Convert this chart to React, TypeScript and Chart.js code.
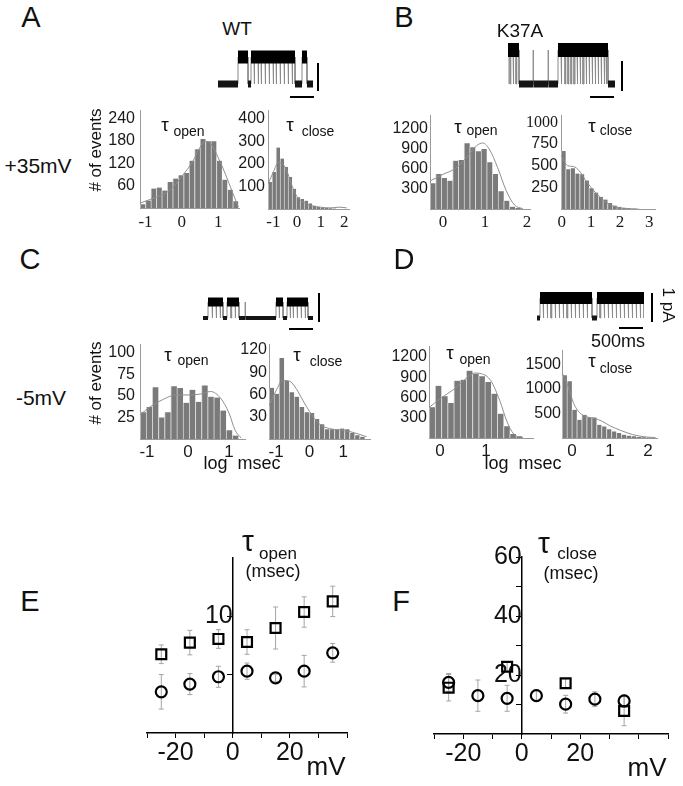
import React, { useEffect, useRef } from 'react';
import { Chart, registerables } from 'chart.js';
Chart.register(...registerables);

const SANS = "'Liberation Sans', Arial, sans-serif";
const SERIF = "'Liberation Serif', 'Times New Roman', serif";
Chart.defaults.font.family = SANS;

// ---------- Histogram data (log msec bins, # of events) ----------
const aOpenStart = -1.15; const aOpenWidth = 0.15;
const aOpenBins = [10, 20, 52, 55, 47, 70, 79, 88, 94, 127, 158, 185, 179, 179, 127, 76, 49, 18];
const aOpenFitX = [-1.15, -0.9, -0.6, -0.3, 0, 0.3, 0.5, 0.65, 0.8, 1.0, 1.2, 1.4, 1.55];
const aOpenFitY = [13, 22, 33, 50, 85, 125, 163, 179, 172, 135, 90, 40, 3];
const aOpenXTicks = [-1, 0, 1];
const aOpenYTicks = [60, 120, 180, 240];

const aCloseStart = -1.23; const aCloseWidth = 0.17;
const aCloseBins = [120, 165, 273, 224, 187, 142, 90, 52, 45, 37, 25, 15, 10, 7, 5, 3, 2];
const aCloseFitX = [-1.23, -1.0, -0.8, -0.6, -0.4, -0.2, 0, 0.3, 0.6, 1.0, 1.4, 1.8, 2.1];
const aCloseFitY = [110, 165, 205, 200, 160, 100, 55, 28, 15, 8, 5, 8, 5];
const aCloseXTicks = [-1, 0, 1, 2];
const aCloseYTicks = [100, 200, 300, 400];

const bOpenStart = -0.31; const bOpenWidth = 0.135;
const bOpenBins = [385, 525, 465, 425, 725, 735, 985, 925, 865, 900, 700, 525, 265, 125, 35, 15];
const bOpenFitX = [-0.31, 0, 0.3, 0.6, 0.8, 0.95, 1.1, 1.3, 1.5, 1.7, 1.9];
const bOpenFitY = [420, 520, 610, 800, 950, 990, 900, 620, 280, 60, 5];
const bOpenXTicks = [0, 1, 2];
const bOpenYTicks = [300, 600, 900, 1200];

const bCloseStart = -0.03; const bCloseWidth = 0.16;
const bCloseBins = [670, 460, 470, 410, 400, 330, 240, 190, 140, 110, 70, 40, 25, 15, 8, 4, 2];
const bCloseFitX = [-0.03, 0.2, 0.4, 0.6, 0.8, 1.0, 1.3, 1.6, 1.9, 2.2, 2.6];
const bCloseFitY = [620, 500, 490, 440, 340, 250, 140, 60, 20, 5, 1];
const bCloseXTicks = [0, 1, 2, 3];
const bCloseYTicks = [250, 500, 750, 1000];

const cOpenStart = -1.17; const cOpenWidth = 0.15;
const cOpenBins = [31, 37, 60, 25, 31, 61, 59, 42, 57, 43, 62, 49, 48, 33, 10, 4];
const cOpenFitX = [-1.17, -0.9, -0.6, -0.3, 0, 0.3, 0.55, 0.8, 1.0, 1.15, 1.3];
const cOpenFitY = [28, 38, 46, 51, 51, 52, 55, 47, 30, 10, 1];
const cOpenXTicks = [-1, 0, 1];
const cOpenYTicks = [25, 50, 75, 100];

const cCloseStart = -1.21; const cCloseWidth = 0.15;
const cCloseBins = [69, 61, 109, 78, 63, 57, 43, 36, 35, 27, 20, 13, 13, 13, 14, 13, 8, 5, 3];
const cCloseFitX = [-1.21, -1.0, -0.8, -0.6, -0.4, -0.2, 0, 0.3, 0.6, 0.9, 1.2, 1.5, 1.7];
const cCloseFitY = [45, 65, 79, 78, 68, 52, 37, 20, 14, 12, 10, 6, 3];
const cCloseXTicks = [-1, 0, 1];
const cCloseYTicks = [30, 60, 90, 120];

const dOpenStart = -0.24; const dOpenWidth = 0.135;
const dOpenBins = [453, 773, 616, 517, 847, 862, 995, 950, 911, 827, 655, 360, 172, 60, 25];
const dOpenFitX = [-0.24, 0, 0.3, 0.6, 0.75, 0.9, 1.1, 1.3, 1.45, 1.6, 1.8];
const dOpenFitY = [450, 580, 720, 900, 960, 950, 850, 550, 250, 60, 5];
const dOpenXTicks = [0, 1];
const dOpenYTicks = [300, 600, 900, 1200];

const dCloseStart = -0.26; const dCloseWidth = 0.13;
const dCloseBins = [1280, 1160, 575, 370, 475, 420, 420, 270, 236, 180, 135, 100, 68, 47, 34, 20, 13, 10, 6];
const dCloseFitX = [-0.26, -0.1, 0.05, 0.2, 0.4, 0.6, 0.8, 1.0, 1.3, 1.6, 1.9, 2.2];
const dCloseFitY = [1330, 1050, 700, 520, 430, 400, 340, 250, 150, 70, 25, 8];
const dCloseXTicks = [0, 1, 2];
const dCloseYTicks = [500, 1000, 1500];

// ---------- Single-channel traces (open intervals, time in arbitrary units) ----------
const traceATotal = 95;
const traceAOpen = [[20, 30], [33, 36], [36.7, 40], [40.7, 43], [43.7, 47], [47.7, 51], [51.7, 55], [55.7, 58], [58.7, 62], [62.7, 66], [66.7, 70], [70.7, 74], [74.7, 77], [84, 89]];
const traceBTotal = 107;
const traceBOpen = [[0, 2], [2.8, 5], [5.8, 8], [8.8, 11], [25, 25.4], [40, 40.4], [50, 53], [53.8, 57], [57.8, 60], [60.8, 63], [63.8, 66], [67, 69], [69.8, 72], [72.8, 75], [76, 78], [78.8, 81], [81.8, 84], [84.8, 87], [87.8, 90], [90.8, 93], [93.8, 96], [96.8, 98], [98.8, 100]];
const traceCTotal = 110;
const traceCOpen = [[5, 9], [9.7, 13], [13.7, 17], [17.7, 20], [24, 28], [28.7, 32], [32.7, 36], [42, 42.4], [73, 76], [76.7, 80], [84, 87], [87.7, 90], [90.7, 94], [94.7, 98], [98.7, 102], [102.7, 105]];
const traceDTotal = 107;
const traceDOpen = [[3, 6], [6.8, 10], [10.8, 14], [14.8, 18], [18.8, 22], [22.8, 26], [26.8, 30], [30.8, 34], [34.8, 38], [38.8, 42], [42.8, 46], [46.8, 50], [50.8, 55], [60, 63], [63.8, 67], [67.8, 71], [71.8, 75], [75.8, 79], [79.8, 83], [83.8, 87], [87.8, 91], [91.8, 95], [95.8, 99], [99.8, 103], [103.8, 107]];

// ---------- Panel E (tau open, msec) and F (tau close, msec) ----------
const voltages = [-25, -15, -5, 5, 15, 25, 35];
const eSquare = [6.75, 7.75, 8.06, 7.8, 9.0, 10.37, 11.28];
const eSquareErr = [0.8, 1.05, 0.8, 1.05, 1.8, 1.3, 1.3];
const eCircle = [3.53, 4.19, 4.82, 5.3, 4.73, 5.3, 6.87];
const eCircleErr = [1.48, 0.9, 0.9, 0.7, 0.3, 1.35, 0.8];
const eXTicks = [-30, -20, -10, 0, 10, 20, 30, 40];
const eXLabels = [-20, 0, 20];
const eYTicks = [5, 10];
const eYLabels = [10];

const fSquareVolt = [-25, -5, 15, 35];
const fSquare = [15.7, 22.8, 17.2, 7.8];
const fSquareErr = [4.5, 1.5, 1.5, 5];
const fCircle = [17.5, 13.0, 12.1, 13.0, 10.1, 11.8, 11.2];
const fCircleErr = [3, 5.3, 4.4, 2, 3, 2.5, 2];
const fXTicks = [-30, -20, -10, 0, 10, 20, 30, 40, 50];
const fXLabels = [-20, 0, 20];
const fYTicks = [10, 20, 30, 40, 50, 60];
const fYLabels = [20, 40, 60];

// ---------- helpers ----------
const zeroPad = (s: any) => { s.paddingLeft = 0; s.paddingRight = 0; s.paddingTop = 0; s.paddingBottom = 0; };
const baseOpts = (pad: any) => ({
  responsive: false, animation: false, devicePixelRatio: 1, events: [],
  layout: { padding: { left: 0, top: pad.t, right: pad.r, bottom: 0 } },
  plugins: { legend: { display: false }, tooltip: { enabled: false } },
});

function histConfig(h: any) {
  return (pad: any) => {
    const bars = h.bins.map((v: number, i: number) => ({ x: h.start + (i + 0.5) * h.width, y: v }));
    const fit = h.fitX.map((x: number, i: number) => ({ x, y: h.fitY[i] }));
    return {
      type: 'bar',
      data: {
        datasets: [
          { type: 'line', data: fit, borderColor: '#8e8e8e', borderWidth: 1, pointRadius: 0, cubicInterpolationMode: 'monotone', order: 0 },
          { type: 'bar', data: bars, backgroundColor: '#7a7a7a', borderColor: '#d6d6d6', borderWidth: { left: 1, right: 0, top: 0, bottom: 0 }, categoryPercentage: 1, barPercentage: 1, order: 1 },
        ],
      },
      options: {
        ...baseOpts(pad),
        scales: {
          x: {
            type: 'linear', min: h.xMin, max: h.xMax, offset: false,
            grid: { display: true, drawOnChartArea: false, drawTicks: false, offset: false },
            border: { display: true, color: '#9a9a9a', width: 1 },
            ticks: { font: { family: h.xSerif ? SERIF : SANS, size: 17 }, color: '#1a1a1a', padding: h.xPad, autoSkip: false, maxRotation: 0, callback: (v: any) => String(v) },
            afterBuildTicks: (s: any) => { s.ticks = h.xTicks.map((v: number) => ({ value: v })); },
            afterFit: (s: any) => { s.height = pad.b; zeroPad(s); },
          },
          y: {
            type: 'linear', min: 0, max: h.yMax,
            grid: { display: true, drawOnChartArea: false, drawTicks: false },
            border: { display: true, color: '#9a9a9a', width: 1 },
            ticks: {
              font: (ctx: any) => ({ family: h.serifTop && ctx.tick && ctx.tick.value === h.yTicks[h.yTicks.length - 1] ? SERIF : SANS, size: 16 }),
              color: '#1a1a1a', padding: h.yPad, autoSkip: false, callback: (v: any) => String(v),
            },
            afterBuildTicks: (s: any) => { s.ticks = h.yTicks.map((v: number) => ({ value: v })); },
            afterFit: (s: any) => { s.width = pad.l; zeroPad(s); },
          },
        },
      },
    };
  };
}

function traceConfig(tr: any) {
  return (pad: any) => {
    const thin: any[] = [{ x: 0, y: 0 }];
    const closedBand: any[] = [];
    let prev = 0;
    for (const [s, e] of tr.open) {
      thin.push({ x: s, y: 0 }, { x: s, y: 1 }, { x: e, y: 1 }, { x: e, y: 0 });
      if (s - prev > 2) closedBand.push({ x: prev, y: 0 }, { x: s, y: 0 }, { x: s, y: null });
      prev = e;
    }
    thin.push({ x: tr.total, y: 0 });
    if (tr.total - prev > 2) closedBand.push({ x: prev, y: 0 }, { x: tr.total, y: 0 });
    // open band: bursts separated only by brief flickers stay one continuous band
    const merged: number[][] = [];
    for (const [s, e] of tr.open) {
      const last = merged[merged.length - 1];
      if (last && s - last[1] < 1.5) last[1] = e; else merged.push([s, e]);
    }
    const openBand: any[] = [];
    for (const [s, e] of merged) openBand.push({ x: s, y: 1 }, { x: e, y: 1 }, { x: e, y: null });
    const k = tr.closedPx - tr.openPx;
    return {
      type: 'line',
      data: {
        datasets: [
          { data: openBand, borderColor: '#000', borderWidth: tr.openW, pointRadius: 0, spanGaps: false, borderCapStyle: 'butt', order: 0 },
          { data: closedBand, borderColor: '#151515', borderWidth: tr.closedW, pointRadius: 0, spanGaps: false, borderCapStyle: 'butt', order: 1 },
          { data: thin, borderColor: '#8a8a8a', borderWidth: 1, pointRadius: 0, order: 2 },
        ],
      },
      options: {
        ...baseOpts({ t: 0, r: 0 }),
        scales: {
          x: { type: 'linear', display: false, min: 0, max: tr.total },
          y: { type: 'linear', display: false, min: (tr.closedPx - tr.frame.b) / k, max: (tr.closedPx - tr.frame.t) / k },
        },
      },
    };
  };
}

function errData(xs: number[], ys: number[], es: number[]) {
  const out: any[] = [];
  xs.forEach((x, i) => { out.push({ x, y: ys[i] - es[i] }, { x, y: ys[i] + es[i] }, { x, y: null }); });
  return out;
}

function scatterConfig(sp: any) {
  return (pad: any) => ({
    type: 'scatter',
    data: {
      datasets: [
        { data: sp.sqX.map((x: number, i: number) => ({ x, y: sp.sq[i] })), pointStyle: 'rect', pointRadius: 7, pointBorderWidth: 2.2, pointBorderColor: '#000', pointBackgroundColor: 'rgba(0,0,0,0)', order: 0 },
        { data: sp.ciX.map((x: number, i: number) => ({ x, y: sp.ci[i] })), pointStyle: 'circle', pointRadius: 5.5, pointBorderWidth: 2.2, pointBorderColor: '#000', pointBackgroundColor: 'rgba(0,0,0,0)', order: 1 },
        { data: errData(sp.sqX, sp.sq, sp.sqE), showLine: true, spanGaps: false, borderColor: '#a5a5a5', borderWidth: 1, pointStyle: 'line', pointRadius: 2.5, pointBorderColor: '#a5a5a5', pointBorderWidth: 1, order: 2 },
        { data: errData(sp.ciX, sp.ci, sp.ciE), showLine: true, spanGaps: false, borderColor: '#a5a5a5', borderWidth: 1, pointStyle: 'line', pointRadius: 2.5, pointBorderColor: '#a5a5a5', pointBorderWidth: 1, order: 3 },
      ],
    },
    options: {
      ...baseOpts(pad),
      layout: { padding: { left: pad.l, top: pad.t, right: pad.r, bottom: 0 } },
      scales: {
        x: {
          type: 'linear', min: sp.xMin, max: sp.xMax,
          grid: { display: true, drawOnChartArea: false, drawTicks: true, tickLength: 5, color: '#000', lineWidth: 1 },
          border: { display: true, color: '#000', width: 1.5 },
          ticks: { font: { size: 25 }, color: '#111', padding: 0, autoSkip: false, maxRotation: 0, callback: (v: any) => (sp.xLabels.includes(v) ? String(v) : '') },
          afterBuildTicks: (s: any) => { s.ticks = sp.xTicks.map((v: number) => ({ value: v })); },
          afterFit: (s: any) => { s.height = pad.b; zeroPad(s); },
        },
        y: {
          type: 'linear', min: 0, max: sp.yMax, position: { x: 0 },
          grid: { display: true, drawOnChartArea: false, drawTicks: true, tickLength: 5, color: '#000', lineWidth: 1 },
          border: { display: true, color: '#000', width: 1.5 },
          ticks: { font: { size: 25 }, color: '#111', padding: 3, autoSkip: false, callback: (v: any) => (sp.yLabels.includes(v) ? String(v) : '') },
          afterBuildTicks: (s: any) => { s.ticks = sp.yTicks.map((v: number) => ({ value: v })); },
          afterFit: (s: any) => { zeroPad(s); },
        },
      },
    },
  });
}

// ---------- specs (layout) ----------
const HPAD = { l: 45, r: 8, t: 12, b: 32 };
const hists = [
  { frame: { l: 140, t: 110, r: 239, b: 208 }, xMin: -1.15, xMax: 1.57, yMax: 263, start: aOpenStart, width: aOpenWidth, bins: aOpenBins, fitX: aOpenFitX, fitY: aOpenFitY, xTicks: aOpenXTicks, yTicks: aOpenYTicks, xSerif: true, xPad: 4, yPad: 5 },
  { frame: { l: 268, t: 110, r: 349, b: 209 }, xMin: -1.23, xMax: 2.2, yMax: 440, start: aCloseStart, width: aCloseWidth, bins: aCloseBins, fitX: aCloseFitX, fitY: aCloseFitY, xTicks: aCloseXTicks, yTicks: aCloseYTicks, xSerif: true, xPad: 3, yPad: 3 },
  { frame: { l: 430, t: 115, r: 530, b: 209 }, xMin: -0.31, xMax: 2.07, yMax: 1410, start: bOpenStart, width: bOpenWidth, bins: bOpenBins, fitX: bOpenFitX, fitY: bOpenFitY, xTicks: bOpenXTicks, yTicks: bOpenYTicks, xSerif: true, xPad: 3, yPad: 2 },
  { frame: { l: 561, t: 115, r: 655, b: 209 }, xMin: -0.03, xMax: 3.2, yMax: 1085, start: bCloseStart, width: bCloseWidth, bins: bCloseBins, fitX: bCloseFitX, fitY: bCloseFitY, xTicks: bCloseXTicks, yTicks: bCloseYTicks, xSerif: true, xPad: 3, yPad: 3, serifTop: true },
  { frame: { l: 140, t: 344, r: 245, b: 439 }, xMin: -1.17, xMax: 1.39, yMax: 110, start: cOpenStart, width: cOpenWidth, bins: cOpenBins, fitX: cOpenFitX, fitY: cOpenFitY, xTicks: cOpenXTicks, yTicks: cOpenYTicks, xSerif: false, xPad: 3, yPad: 5 },
  { frame: { l: 269, t: 344, r: 370, b: 439 }, xMin: -1.21, xMax: 1.8, yMax: 128, start: cCloseStart, width: cCloseWidth, bins: cCloseBins, fitX: cCloseFitX, fitY: cCloseFitY, xTicks: cCloseXTicks, yTicks: cCloseYTicks, xSerif: false, xPad: 3, yPad: 2 },
  { frame: { l: 429, t: 346, r: 533, b: 438 }, xMin: -0.24, xMax: 2.02, yMax: 1360, start: dOpenStart, width: dOpenWidth, bins: dOpenBins, fitX: dOpenFitX, fitY: dOpenFitY, xTicks: dOpenXTicks, yTicks: dOpenYTicks, xSerif: false, xPad: 3, yPad: 2 },
  { frame: { l: 562, t: 350, r: 657, b: 438 }, xMin: -0.26, xMax: 2.24, yMax: 1796, start: dCloseStart, width: dCloseWidth, bins: dCloseBins, fitX: dCloseFitX, fitY: dCloseFitY, xTicks: dCloseXTicks, yTicks: dCloseYTicks, xSerif: false, xPad: 3, yPad: 1 },
];

const traces = [
  { frame: { l: 218, t: 45, r: 313, b: 95 }, openPx: 57, closedPx: 84, total: traceATotal, open: traceAOpen, openW: 13, closedW: 7 },
  { frame: { l: 508, t: 35, r: 615, b: 100 }, openPx: 50, closedPx: 84, total: traceBTotal, open: traceBOpen, openW: 14, closedW: 7 },
  { frame: { l: 203, t: 288, r: 313, b: 330 }, openPx: 302, closedPx: 318, total: traceCTotal, open: traceCOpen, openW: 9, closedW: 4 },
  { frame: { l: 537, t: 283, r: 644, b: 330 }, openPx: 298, closedPx: 318, total: traceDTotal, open: traceDOpen, openW: 12, closedW: 5 },
];
const TPAD = { l: 0, r: 0, t: 0, b: 0 };

const SPAD = { l: 12, r: 12, t: 20, b: 45 };
const scatters = [
  { frame: { l: 147, t: 558, r: 347, b: 733 }, xMin: -30, xMax: 40, yMax: 15, sqX: voltages, sq: eSquare, sqE: eSquareErr, ciX: voltages, ci: eCircle, ciE: eCircleErr, xTicks: eXTicks, xLabels: eXLabels, yTicks: eYTicks, yLabels: eYLabels },
  { frame: { l: 434, t: 557, r: 668, b: 734 }, xMin: -30, xMax: 50, yMax: 60, sqX: fSquareVolt, sq: fSquare, sqE: fSquareErr, ciX: voltages, ci: fCircle, ciE: fCircleErr, xTicks: fXTicks, xLabels: fXLabels, yTicks: fYTicks, yLabels: fYLabels },
];

function ChartCanvas({ frame, pad, make }: any) {
  const ref = useRef<HTMLCanvasElement | null>(null);
  const W = frame.r - frame.l + pad.l + pad.r;
  const H = frame.b - frame.t + pad.t + pad.b;
  useEffect(() => {
    const c = new Chart(ref.current as HTMLCanvasElement, make(pad));
    return () => c.destroy();
  }, []);
  return <canvas ref={ref} width={W} height={H} style={{ position: 'absolute', left: frame.l - pad.l, top: frame.t - pad.t, width: W, height: H }} />;
}

const Txt = ({ x, y, s, rot = 0, fam = SANS, children }: any) => (
  <div style={{ position: 'absolute', left: x, top: y, transform: `translate(-50%, -50%) rotate(${rot}deg)`, fontSize: s, fontFamily: fam, lineHeight: 1, whiteSpace: 'pre', color: '#111' }}>{children}</div>
);
const Rule = ({ x, y, w, h }: any) => (
  <div style={{ position: 'absolute', left: x, top: y, width: w, height: h, background: '#000' }} />
);

export default function App() {
  return (
    <div style={{ position: 'absolute', left: 0, top: 0, width: 683, height: 786, background: '#fff', overflow: 'hidden' }}>
      {hists.map((h, i) => <ChartCanvas key={'h' + i} frame={h.frame} pad={HPAD} make={histConfig(h)} />)}
      {traces.map((t, i) => <ChartCanvas key={'t' + i} frame={t.frame} pad={TPAD} make={traceConfig(t)} />)}
      {scatters.map((s, i) => <ChartCanvas key={'s' + i} frame={s.frame} pad={SPAD} make={scatterConfig(s)} />)}

      {/* scale bars */}
      <Rule x={317} y={63} w={2} h={28} />
      <Rule x={290} y={96} w={24} h={2} />
      <Rule x={621} y={61} w={2} h={30} />
      <Rule x={590} y={96} w={24} h={2} />
      <Rule x={318} y={293} w={2} h={29} />
      <Rule x={289} y={328} w={24} h={2} />
      <Rule x={651} y={293} w={2} h={29} />
      <Rule x={619} y={327} w={24} h={2} />

      {/* panel letters */}
      <Txt x={31} y={17} s={29}>A</Txt>
      <Txt x={404} y={17} s={29}>B</Txt>
      <Txt x={30} y={259} s={29}>C</Txt>
      <Txt x={404} y={259} s={29}>D</Txt>
      <Txt x={30} y={601} s={29}>E</Txt>
      <Txt x={401} y={601} s={29}>F</Txt>

      <Txt x={237} y={28} s={19}>WT</Txt>
      <Txt x={520} y={30} s={19}>K37A</Txt>
      <Txt x={38} y={165} s={21}>+35mV</Txt>
      <Txt x={41} y={397} s={21}>-5mV</Txt>
      <Txt x={95} y={150} s={17} rot={-90}># of events</Txt>
      <Txt x={95} y={383} s={17} rot={-90}># of events</Txt>

      {/* histogram titles */}
      <Txt x={165} y={124} s={19}>τ</Txt><Txt x={189} y={131} s={14}>open</Txt>
      <Txt x={290} y={124} s={19}>τ</Txt><Txt x={318} y={131} s={14}>close</Txt>
      <Txt x={458} y={126} s={19}>τ</Txt><Txt x={482} y={130} s={14}>open</Txt>
      <Txt x={592} y={125} s={19}>τ</Txt><Txt x={616} y={130} s={14}>close</Txt>
      <Txt x={168} y={354} s={19}>τ</Txt><Txt x={193} y={360} s={14}>open</Txt>
      <Txt x={297} y={354} s={19}>τ</Txt><Txt x={326} y={361} s={14}>close</Txt>
      <Txt x={450} y={352} s={19}>τ</Txt><Txt x={475} y={359} s={14}>open</Txt>
      <Txt x={592} y={360} s={19}>τ</Txt><Txt x={616} y={368} s={14}>close</Txt>

      <Txt x={242} y={463} s={18}>log  msec</Txt>
      <Txt x={523} y={463} s={18}>log  msec</Txt>
      <Txt x={668} y={305} s={17} rot={90}>1 pA</Txt>
      <Txt x={618} y={341} s={18}>500ms</Txt>

      {/* E / F labels */}
      <Txt x={248} y={541} s={30}>τ</Txt>
      <Txt x={278} y={553} s={17}>open</Txt>
      <Txt x={273} y={571} s={18}>(msec)</Txt>
      <Txt x={544} y={543} s={30}>τ</Txt>
      <Txt x={577} y={553} s={17}>close</Txt>
      <Txt x={571} y={573} s={18}>(msec)</Txt>
      <Txt x={326} y={766} s={26}>mV</Txt>
      <Txt x={647} y={767} s={26}>mV</Txt>
    </div>
  );
}
